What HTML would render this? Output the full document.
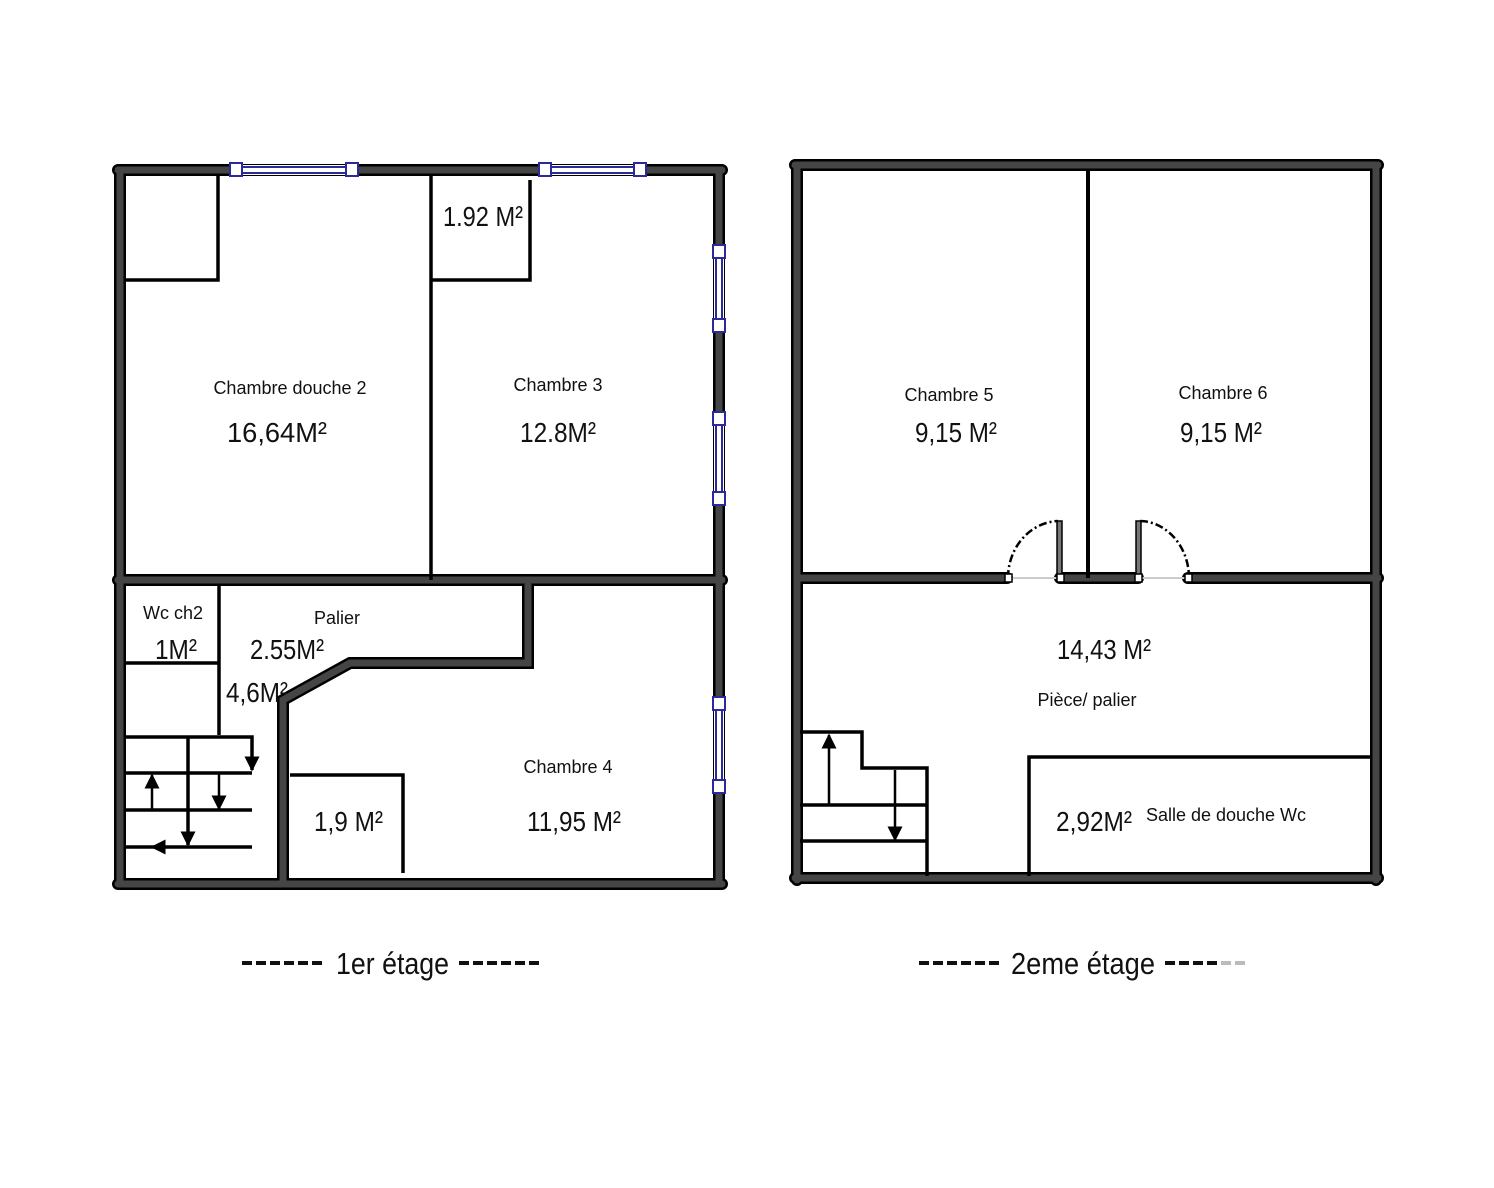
<!DOCTYPE html>
<html><head><meta charset="utf-8"><style>
html,body{margin:0;padding:0;background:#fff}
svg{display:block}
text{font-family:"Liberation Sans Narrow","Liberation Sans",sans-serif;fill:#111}
.w{stroke:#000;stroke-width:12;stroke-linecap:round;fill:none}
.wi{stroke:#454545;stroke-width:7;stroke-linecap:round;fill:none}
.t{stroke:#000;stroke-width:3.5;fill:none}
.a{stroke:#000;stroke-width:2.5;fill:none}
.lab{font-size:18px}
.num{font-size:28px}
</style></head><body>
<svg width="1494" height="1188" viewBox="0 0 1494 1188" xmlns="http://www.w3.org/2000/svg">
<defs>
<marker id="ar" viewBox="0 0 10 10" refX="9" refY="5" markerWidth="6" markerHeight="6" orient="auto"><path d="M0,0 L10,5 L0,10z" fill="#000"/></marker>
</defs>
<g>
<path class="w" d="M118,170 H722 M120,170 V884 M719,170 V884 M118,884 H722 M118,580 H722 M528,585 V663 H350 L283,700 V884"/>
<path class="wi" d="M118,170 H722 M120,170 V884 M719,170 V884 M118,884 H722 M118,580 H722 M528,585 V663 H350 L283,700 V884"/>
</g>
<g fill="#fff" stroke="#2a2a9a" stroke-width="2">
<rect x="236" y="165" width="116" height="10" fill="#fff" stroke="none"/>
<line x1="236" y1="167" x2="352" y2="167"/><line x1="236" y1="173" x2="352" y2="173"/>
<rect x="545" y="165" width="95" height="10" fill="#fff" stroke="none"/>
<line x1="545" y1="167" x2="640" y2="167"/><line x1="545" y1="173" x2="640" y2="173"/>
<rect x="714" y="251" width="10" height="74" stroke="none"/>
<line x1="716" y1="251" x2="716" y2="325"/><line x1="722" y1="251" x2="722" y2="325"/>
<rect x="714" y="418" width="10" height="80" stroke="none"/>
<line x1="716" y1="418" x2="716" y2="498"/><line x1="722" y1="418" x2="722" y2="498"/>
<rect x="714" y="703" width="10" height="83" stroke="none"/>
<line x1="716" y1="703" x2="716" y2="786"/><line x1="722" y1="703" x2="722" y2="786"/>
<rect x="230" y="163" width="12" height="13"/><rect x="346" y="163" width="12" height="13"/>
<rect x="539" y="163" width="12" height="13"/><rect x="634" y="163" width="12" height="13"/>
<rect x="713" y="245" width="12" height="13"/><rect x="713" y="319" width="12" height="13"/>
<rect x="713" y="412" width="12" height="13"/><rect x="713" y="492" width="12" height="13"/>
<rect x="713" y="697" width="12" height="13"/><rect x="713" y="780" width="12" height="13"/>
</g>
<path class="t" d="M218,175 V280 H124 M431,175 V580 M431,280 H530 V180 M219,585 V735 M124,663 H219 M290,775 H403 V873"/>
<path class="t" d="M124,737 H252 V770 M124,773 H252 M124,810 H252 M124,847 H252 M188,737 V845"/>
<g class="a">
<line x1="252" y1="737" x2="252" y2="770" marker-end="url(#ar)"/>
<line x1="152" y1="810" x2="152" y2="775" marker-end="url(#ar)"/>
<line x1="219" y1="773" x2="219" y2="809" marker-end="url(#ar)"/>
<line x1="188" y1="810" x2="188" y2="845" marker-end="url(#ar)"/>
<line x1="188" y1="847" x2="152" y2="847" marker-end="url(#ar)"/>
</g>
<text class="lab" x="290" y="394" text-anchor="middle">Chambre douche 2</text>
<text class="num" x="227" y="442" textLength="100" lengthAdjust="spacingAndGlyphs">16,64M²</text>
<text class="lab" x="558" y="391" text-anchor="middle">Chambre 3</text>
<text class="num" x="520" y="442" textLength="76" lengthAdjust="spacingAndGlyphs">12.8M²</text>
<text class="num" x="443" y="226" textLength="80" lengthAdjust="spacingAndGlyphs">1.92 M²</text>
<text class="lab" x="173" y="619" text-anchor="middle">Wc ch2</text>
<text class="num" x="155" y="659" textLength="42" lengthAdjust="spacingAndGlyphs">1M²</text>
<text class="lab" x="337" y="624" text-anchor="middle">Palier</text>
<text class="num" x="250" y="659" textLength="74" lengthAdjust="spacingAndGlyphs">2.55M²</text>
<text class="num" x="226" y="702" textLength="62" lengthAdjust="spacingAndGlyphs">4,6M²</text>
<text class="lab" x="568" y="773" text-anchor="middle">Chambre 4</text>
<text class="num" x="314" y="831" textLength="69" lengthAdjust="spacingAndGlyphs">1,9 M²</text>
<text class="num" x="527" y="831" textLength="94" lengthAdjust="spacingAndGlyphs">11,95 M²</text>

<g>
<path class="w" d="M795,165 H1378 M797,165 V880 M1376,165 V880 M795,878 H1378 M797,578 H1007 M1060,578 H1138 M1188,578 H1378"/>
<path class="wi" d="M795,165 H1378 M797,165 V880 M1376,165 V880 M795,878 H1378 M797,578 H1007 M1060,578 H1138 M1188,578 H1378"/>
</g>
<line x1="1010" y1="578" x2="1058" y2="578" stroke="#ccc" stroke-width="2"/>
<line x1="1140" y1="578" x2="1186" y2="578" stroke="#ccc" stroke-width="2"/>
<line x1="1088" y1="170" x2="1088" y2="578" stroke="#000" stroke-width="4"/>
<rect x="1057" y="521" width="5" height="57" fill="#777" stroke="#000" stroke-width="1.5"/>
<rect x="1136" y="521" width="5" height="57" fill="#777" stroke="#000" stroke-width="1.5"/>
<path d="M1008,578 A52,57 0 0 1 1058,521" stroke="#000" stroke-width="2.5" fill="none" stroke-dasharray="8,3,2,3"/>
<path d="M1140,521 A50,57 0 0 1 1189,578" stroke="#000" stroke-width="2.5" fill="none" stroke-dasharray="8,3,2,3"/>
<g fill="#fff" stroke="#000" stroke-width="1.5">
<rect x="1005" y="574" width="7" height="8"/><rect x="1057" y="574" width="7" height="8"/>
<rect x="1135" y="574" width="7" height="8"/><rect x="1185" y="574" width="7" height="8"/>
</g>
<path class="t" d="M800,732 H862 V768 H927 V876 M800,805 H927 M800,841 H927 M1029,876 V757 H1370"/>
<g class="a">
<line x1="829" y1="805" x2="829" y2="735" marker-end="url(#ar)"/>
<line x1="895" y1="770" x2="895" y2="840" marker-end="url(#ar)"/>
</g>
<text class="lab" x="949" y="401" text-anchor="middle">Chambre 5</text>
<text class="num" x="915" y="442" textLength="82" lengthAdjust="spacingAndGlyphs">9,15 M²</text>
<text class="lab" x="1223" y="399" text-anchor="middle">Chambre 6</text>
<text class="num" x="1180" y="442" textLength="82" lengthAdjust="spacingAndGlyphs">9,15 M²</text>
<text class="num" x="1057" y="659" textLength="94" lengthAdjust="spacingAndGlyphs">14,43 M²</text>
<text class="lab" x="1087" y="706" text-anchor="middle">Pièce/ palier</text>
<text class="num" x="1056" y="831" textLength="76" lengthAdjust="spacingAndGlyphs">2,92M²</text>
<text class="lab" x="1226" y="821" text-anchor="middle">Salle de douche Wc</text>

<g stroke="#111" stroke-width="4">
<path d="M242,963 h10 M256,963 h10 M270,963 h10 M284,963 h10 M298,963 h10 M312,963 h10"/>
<path d="M459,963 h10 M473,963 h10 M487,963 h10 M501,963 h10 M515,963 h10 M529,963 h10"/>
<path d="M919,963 h10 M933,963 h10 M947,963 h10 M961,963 h10 M975,963 h10 M989,963 h10"/>
<path d="M1165,963 h10 M1179,963 h10 M1193,963 h10 M1207,963 h10"/>
</g>
<path d="M1221,963 h10 M1235,963 h10" stroke="#bbb" stroke-width="4"/>
<text x="336" y="974" font-size="31" textLength="113" lengthAdjust="spacingAndGlyphs">1er étage</text>
<text x="1011" y="974" font-size="31" textLength="144" lengthAdjust="spacingAndGlyphs">2eme étage</text>
</svg>
</body></html>
